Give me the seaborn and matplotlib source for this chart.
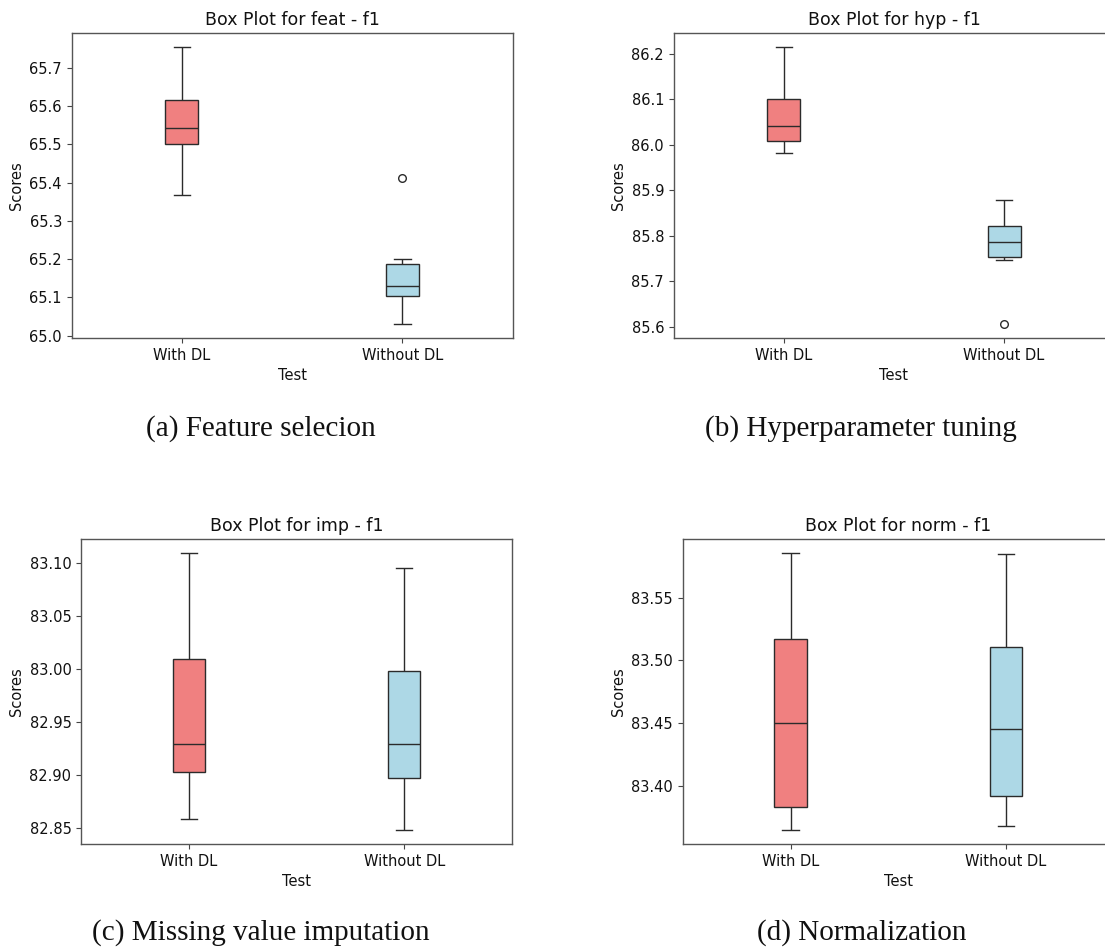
import matplotlib
matplotlib.use("Agg")
import matplotlib.pyplot as plt
import seaborn as sns
import pandas as pd

plt.rcParams["font.family"] = ["DejaVu Sans"]

# Test conditions and box colours
groups = ["With DL", "Without DL"]
group_colors = ["lightcoral", "lightblue"]

# F1 scores per run for each preprocessing task
feat_with = [65.367, 65.500, 65.542, 65.617, 65.755]
feat_without = [65.030, 65.072, 65.1035, 65.118, 65.131, 65.160, 65.186, 65.201, 65.412]

hyp_with = [85.981, 86.008, 86.041, 86.100, 86.215]
hyp_without = [85.606, 85.747, 85.754, 85.770, 85.786, 85.805, 85.821, 85.850, 85.878]

imp_with = [82.8585, 82.903, 82.929, 83.0095, 83.110]
imp_without = [82.848, 82.8976, 82.929, 82.998, 83.096]

norm_with = [83.3648, 83.3836, 83.4505, 83.517, 83.5857]
norm_without = [83.368, 83.392, 83.4457, 83.5106, 83.585]

task_keys = ["feat", "hyp", "imp", "norm"]
captions = ["(a) Feature selecion", "(b) Hyperparameter tuning",
            "(c) Missing value imputation", "(d) Normalization"]
task_scores = {
    "feat": (feat_with, feat_without),
    "hyp": (hyp_with, hyp_without),
    "imp": (imp_with, imp_without),
    "norm": (norm_with, norm_without),
}

W, H = 1105, 947
fig = plt.figure(figsize=(W / 100, H / 100), dpi=100)

# axes boxes in pixels: left, top, width, height
boxes_px = {
    "feat": (71.6, 33, 441.0, 305),
    "hyp": (673.8, 33, 440.3, 305),
    "imp": (81.2, 539, 430.6, 305),
    "norm": (682.8, 539, 431.0, 305),
}
# caption centre x and baseline y in pixels
caption_px = [(261, 435.7), (861.3, 435.7), (261, 939.3), (862, 939.3)]

line_col = "#2b2b2b"
palette = dict(zip(groups, group_colors))

for key, cap, (cx, cy) in zip(task_keys, captions, caption_px):
    l, t, w, h = boxes_px[key]
    ax = fig.add_axes([l / W, 1 - (t + h) / H, w / W, h / H])
    with_vals, without_vals = task_scores[key]
    df = pd.DataFrame({
        "Test": [groups[0]] * len(with_vals) + [groups[1]] * len(without_vals),
        "Scores": list(with_vals) + list(without_vals),
    })
    sns.boxplot(
        data=df, x="Test", y="Scores", hue="Test", palette=palette,
        order=groups, hue_order=groups, legend=False, ax=ax,
        width=0.15, linewidth=1.0, linecolor=line_col, saturation=1,
        flierprops=dict(marker="o", markerfacecolor="none",
                        markeredgecolor=line_col, markersize=5.5,
                        markeredgewidth=1.0),
    )
    ax.set_xlim(-0.5, 1.5)
    ax.set_title(f"Box Plot for {key} - f1", fontsize=12.5, color="#111111")
    ax.set_xlabel("Test", fontsize=10.5, color="#111111")
    ax.set_ylabel("Scores", fontsize=10.5, color="#111111")
    ax.tick_params(labelsize=10.5, labelcolor="#111111", color="#444444")
    for sp in ax.spines.values():
        sp.set_color("#555555")
        sp.set_linewidth(1.0)
    fig.text(cx / W, 1 - cy / H, cap, ha="center", va="baseline",
             fontsize=21, family="Liberation Serif", color="#111111")

fig.savefig("out.png", dpi=100)
